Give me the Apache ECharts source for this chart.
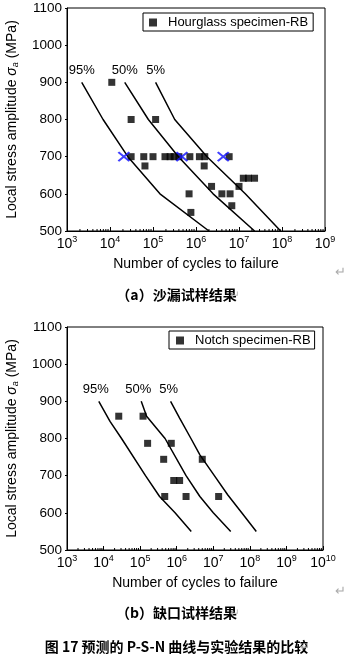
<!DOCTYPE html>
<html><head><meta charset="utf-8">
<script src="https://cdn.jsdelivr.net/npm/echarts@6/dist/echarts.min.js"></script>
<style>html,body{margin:0;padding:0;background:#fff}#c{width:353px;height:664px}</style>
</head><body><div id="c"></div>
<script>
// ---------- Chart (a): Hourglass specimen ----------
const hgN = [1.1e4, 3.1e4, 1.15e5, 3.1e4, 6.1e4, 1.0e5, 1.9e5, 2.5e5, 3.1e5, 4.0e5, 7.2e5, 1.2e6, 1.6e6, 5.9e6,
             6.5e4, 1.55e6, 1.26e7, 1.66e7, 2.3e7, 2.3e6, 1.0e7, 6.9e5, 4.0e6, 6.2e6, 6.8e6, 7.6e5];
const hgS = [900, 800, 800, 700, 700, 700, 700, 700, 700, 700, 700, 700, 700, 700,
             675, 675, 642, 642, 642, 620, 620, 600, 600, 600, 568, 550];
const runoutN = [2.1e4, 4.7e5, 4.3e6];
const runoutS = [700, 700, 700];
const curveAS = [900, 800, 700, 600, 500];
const curveA95 = [2.2e3, 6.9e3, 2.6e4, 1.45e5, 2.0e6];
const curveA50 = [2.2e4, 7.8e4, 3.9e5, 2.5e6, 2.3e7];
const curveA5  = [1.15e5, 3.2e5, 1.8e6, 1.4e7, 9.3e7];

// ---------- Chart (b): Notch specimen ----------
const ntN = [2.6e4, 1.2e5, 1.6e5, 7.1e5, 4.4e5, 5.0e6, 8.3e5, 1.2e6, 4.7e5, 1.8e6, 1.4e7];
const ntS = [860, 860, 787, 787, 744, 744, 687, 687, 644, 644, 644];
const curveB95S = [900, 846, 800, 700, 644, 600, 550];
const curveB95N = [7.4e3, 1.5e4, 3.1e4, 1.4e5, 3.4e5, 9.0e5, 2.5e6];
const curveB50S = [900, 860, 800, 700, 644, 600, 550];
const curveB50N = [1.07e5, 1.5e5, 4.8e5, 1.8e6, 4.3e6, 1.0e7, 3.0e7];
const curveB5S  = [900, 855, 800, 756, 700, 648, 600, 550];
const curveB5N  = [6.8e5, 1.2e6, 2.45e6, 4.3e6, 1.07e7, 2.5e7, 6.0e7, 1.5e8];

const yTicks = [500, 600, 700, 800, 900, 1000, 1100];
const legendA = 'Hourglass specimen-RB';
const legendB = 'Notch specimen-RB';
const xTitle = 'Number of cycles to failure';
const yTitle = 'Local stress amplitude {i|σ}{sub|a} (MPa)';

const FONT = '"Liberation Sans", Arial, sans-serif';
const CJK = '"Noto Sans CJK SC", sans-serif';

function pairs(ns, ss) { return ns.map((n, i) => [n, ss[i]]); }
function minorTicks(lo, hi) {
  const out = [];
  for (let e = lo; e < hi; e++) for (let m = 2; m <= 9; m++) out.push([m * Math.pow(10, e)]);
  return out;
}
function curve(ns, ss, lbl, grid, dx) {
  const d = pairs(ns, ss).map((p, i) => i === 0 ? {
    value: p, label: { show: true, formatter: lbl, position: 'top', distance: 5, offset: [dx || 0, 0],
      color: '#000', fontSize: 13, fontFamily: FONT }
  } : { value: p });
  return {
    type: 'line', xAxisIndex: grid, yAxisIndex: grid, data: d, showSymbol: true, symbol: 'circle', symbolSize: 0.01,
    itemStyle: { color: 'transparent', borderWidth: 0 },
    lineStyle: { color: '#000', width: 1.5 }, silent: true, z: 3,
    label: { show: false }, emphasis: { disabled: true }, animation: false
  };
}

const xLabel = {
  margin: 4, color: '#000', fontFamily: FONT,
  formatter: v => '{b|10}{s|' + Math.round(Math.log10(v)) + '}',
  rich: {
    b: { fontSize: 14, fontFamily: FONT, color: '#000' },
    s: { fontSize: 9, fontFamily: FONT, color: '#000', padding: [0, 0, 9, 0] }
  }
};
function xAxis(grid, maxExp) {
  return {
    type: 'log', logBase: 10, gridIndex: grid, min: 1e3, max: Math.pow(10, maxExp),
    name: xTitle, nameLocation: 'middle', nameGap: 26,
    nameTextStyle: { fontSize: 14, fontFamily: FONT, color: '#000' },
    axisLine: { show: true, onZero: false, lineStyle: { color: '#000', width: 1 } },
    axisTick: { show: true, inside: true, length: 4, lineStyle: { color: '#000' } },
    minorTick: { show: false }, splitLine: { show: false },
    axisLabel: xLabel
  };
}
function yAxis(grid) {
  return {
    type: 'value', gridIndex: grid, min: yTicks[0], max: yTicks[yTicks.length - 1], interval: 100,
    name: yTitle, nameLocation: 'middle', nameGap: 47, nameRotate: 90,
    nameTextStyle: {
      fontSize: 14, fontFamily: FONT, color: '#000',
      rich: {
        i: { fontSize: 14, fontStyle: 'italic', fontFamily: FONT, color: '#000' },
        sub: { fontSize: 9, fontStyle: 'italic', fontFamily: FONT, color: '#000', padding: [7, 0, 0, 0] }
      }
    },
    axisLine: { show: true, onZero: false, lineStyle: { color: '#000', width: 1 } },
    axisTick: { show: true, inside: false, length: 2, lineStyle: { color: '#000' } },
    splitLine: { show: false },
    axisLabel: { margin: 5, fontSize: 13.5, fontFamily: FONT, color: '#000', formatter: v => String(v) }
  };
}
function tickSeries(grid, maxExp) {
  return {
    type: 'custom', xAxisIndex: grid, yAxisIndex: grid, silent: true, animation: false,
    data: minorTicks(3, maxExp), clip: false,
    renderItem: (params, api) => {
      const p = api.coord([api.value(0), yTicks[0]]);
      return { type: 'line', shape: { x1: p[0], y1: p[1], x2: p[0], y2: p[1] - 2 },
        style: { stroke: '#000', lineWidth: 1 } };
    }
  };
}

const sq = { type: 'scatter', symbol: 'rect', symbolSize: 7, itemStyle: { color: '#000' }, z: 4, animation: false };
const gridBase = { show: true, borderColor: '#000', borderWidth: 1, backgroundColor: 'transparent',
  containLabel: false, outerBoundsMode: 'none' };

const option = {
  backgroundColor: '#fff',
  animation: false,
  grid: [
    Object.assign({ left: 67, top: 8, width: 258, height: 223 }, gridBase),
    Object.assign({ left: 67, top: 327, width: 256, height: 223 }, gridBase)
  ],
  xAxis: [xAxis(0, 9), xAxis(1, 10)],
  yAxis: [yAxis(0), yAxis(1)],
  legend: [
    { data: [legendA], left: 143, top: 13, orient: 'horizontal', icon: 'rect', itemWidth: 8, itemHeight: 8,
      borderColor: '#000', borderWidth: 1, padding: [3, 5, 2, 6], selectedMode: false,
      textStyle: { fontSize: 13, fontFamily: FONT, color: '#000', padding: [0, 0, 0, 6] } },
    { data: [legendB], left: 169, top: 331, orient: 'horizontal', icon: 'rect', itemWidth: 8, itemHeight: 8,
      borderColor: '#000', borderWidth: 1, padding: [3, 4, 2, 7], selectedMode: false,
      textStyle: { fontSize: 13, fontFamily: FONT, color: '#000', padding: [0, 0, 0, 6] } }
  ],
  series: [
    tickSeries(0, 9), tickSeries(1, 10),
    curve(curveA95, curveAS, '95%', 0), curve(curveA50, curveAS, '50%', 0), curve(curveA5, curveAS, '5%', 0),
    curve(curveB95N, curveB95S, '95%', 1, -3), curve(curveB50N, curveB50S, '50%', 1, -3), curve(curveB5N, curveB5S, '5%', 1, -2),
    Object.assign({}, sq, { name: legendA, xAxisIndex: 0, yAxisIndex: 0, data: pairs(hgN, hgS) }),
    { type: 'scatter', name: 'runout', xAxisIndex: 0, yAxisIndex: 0, data: pairs(runoutN, runoutS),
      symbol: 'path://M0,0L10,10M10,0L0,10', symbolSize: [11, 9], z: 5, animation: false,
      itemStyle: { color: 'transparent', borderColor: '#1010ff', borderWidth: 2 } },
    Object.assign({}, sq, { name: legendB, xAxisIndex: 1, yAxisIndex: 1, data: pairs(ntN, ntS) })
  ],
  graphic: [
    { type: 'text', left: 'center', top: 288, style: { text: '（a）沙漏试样结果', font: 'bold 14px ' + CJK, fill: '#000' } },
    { type: 'text', left: 'center', top: 606, style: { text: '（b）缺口试样结果', font: 'bold 14px ' + CJK, fill: '#000' } },
    { type: 'text', left: 'center', top: 640, style: { text: '图 17 预测的 P-S-N 曲线与实验结果的比较', font: 'bold 14px ' + CJK, fill: '#000' } },
    { type: 'text', left: 335, top: 265, style: { text: '↵', font: '13px ' + CJK, fill: '#aaa' } },
    { type: 'text', left: 335, top: 584, style: { text: '↵', font: '13px ' + CJK, fill: '#aaa' } },
    { type: 'text', left: 230, top: 288, style: { text: '↵', font: '12px ' + CJK, fill: '#bbb' } },
    { type: 'text', left: 230, top: 606, style: { text: '↵', font: '12px ' + CJK, fill: '#bbb' } },
    { type: 'text', left: 300, top: 640, style: { text: '↵', font: '12px ' + CJK, fill: '#bbb' } }
  ]
};
const chart = echarts.init(document.getElementById('c'), null, { renderer: 'canvas' });
chart.setOption(option);
</script></body></html>
